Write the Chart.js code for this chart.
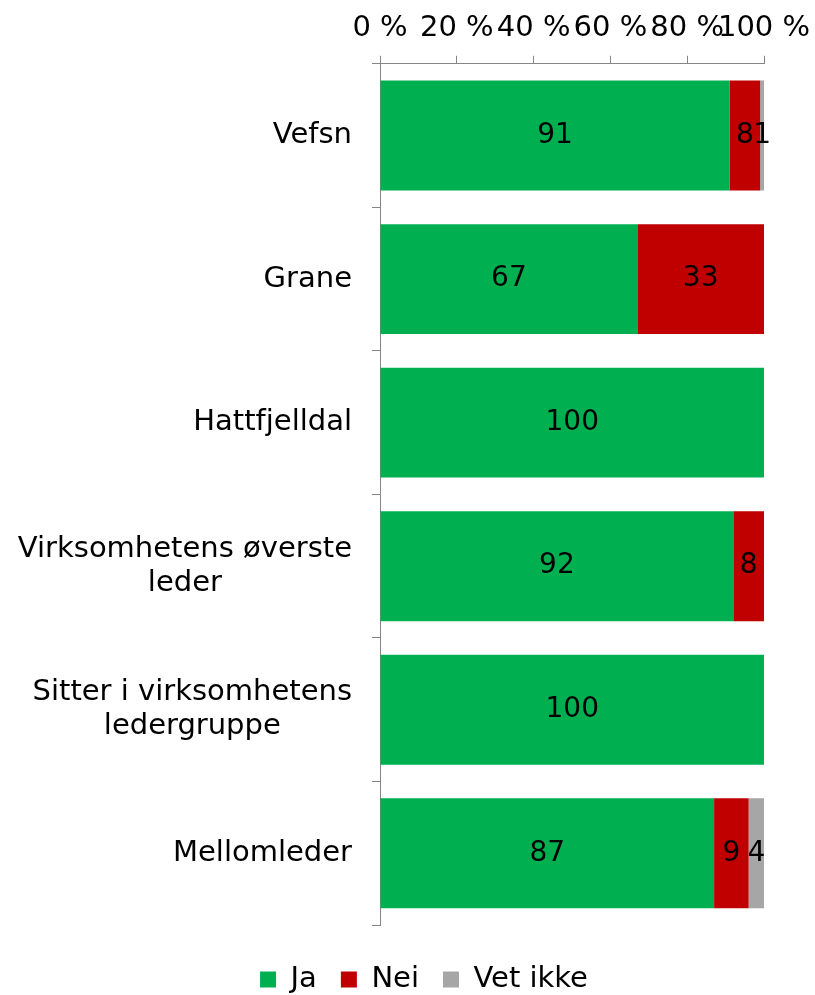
<!DOCTYPE html>
<html>
<head>
<meta charset="utf-8">
<script src="https://cdn.jsdelivr.net/npm/chart.js"></script>
<style>
  body { margin: 0; background: #fff; }
</style>
</head>
<body>
<canvas id="chart" width="815" height="995"></canvas>
<script>
// Dados
const categories = [
  "Vefsn",
  "Grane",
  "Hattfjelldal",
  ["Virksomhetens øverste", "leder"],
  ["Sitter i virksomhetens", "ledergruppe"],
  "Mellomleder"
];
const ja = [91, 67, 100, 92, 100, 87];
const nei = [8, 33, 0, 8, 0, 9];
const vetIkke = [1, 0, 0, 0, 0, 4];
const xTicks = [0, 20, 40, 60, 80, 100];

Chart.defaults.font.family = "'DejaVu Sans', Verdana, sans-serif";
Chart.defaults.font.size = 29;
Chart.defaults.color = "#000";

const axisGray = "#868686";

// Rótulos das categorias (linhas centradas, bloco alinhado à direita)
const categoryLabels = {
  id: "categoryLabels",
  afterDraw(chart) {
    const scale = chart.scales.y;
    const ctx = chart.ctx;
    ctx.save();
    ctx.font = "29px 'DejaVu Sans'";
    ctx.fillStyle = "#000";
    ctx.textAlign = "center";
    ctx.textBaseline = "middle";
    const right = scale.right - 28;
    const lineH = 34;
    categories.forEach((label, i) => {
      const lines = Array.isArray(label) ? label : [label];
      const maxW = Math.max(...lines.map((l) => ctx.measureText(l).width));
      const cx = right - maxW / 2;
      const y0 = scale.getPixelForTick(i) - ((lines.length - 1) * lineH) / 2;
      lines.forEach((l, k) => ctx.fillText(l, cx, y0 + k * lineH));
    });
    ctx.restore();
  }
};

// Valores dentro das barras
const valueLabels = {
  id: "valueLabels",
  afterDatasetsDraw(chart) {
    const ctx = chart.ctx;
    ctx.save();
    ctx.font = "28px 'DejaVu Sans'";
    ctx.fillStyle = "#000";
    ctx.textAlign = "center";
    ctx.textBaseline = "middle";
    chart.data.datasets.forEach((ds, di) => {
      chart.getDatasetMeta(di).data.forEach((bar, i) => {
        const v = ds.data[i];
        if (!v) return;
        ctx.fillText(String(v), (bar.x + bar.base) / 2, bar.y);
      });
    });
    ctx.restore();
  }
};

new Chart(document.getElementById("chart"), {
  type: "bar",
  data: {
    labels: categories,
    datasets: [
      { label: "Ja", data: ja, backgroundColor: "#00B050" },
      { label: "Nei", data: nei, backgroundColor: "#C00000" },
      { label: "Vet ikke", data: vetIkke, backgroundColor: "#A6A6A6" }
    ]
  },
  options: {
    indexAxis: "y",
    responsive: false,
    animation: false,
    datasets: {
      bar: { categoryPercentage: 1, barPercentage: 0.766 }
    },
    layout: { padding: { top: 1, right: 51, bottom: -9, left: 84 } },
    scales: {
      x: {
        position: "top",
        stacked: true,
        min: 0,
        max: 100,
        afterBuildTicks: (scale) => {
          scale.ticks = xTicks.map((v) => ({ value: v }));
        },
        afterFit: (scale) => {
          scale.paddingLeft = 0;
          scale.paddingRight = 0;
        },
        ticks: {
          padding: 10,
          maxRotation: 0,
          autoSkip: false,
          callback: (v) => v + " %"
        },
        grid: {
          drawOnChartArea: false,
          drawTicks: true,
          tickLength: 8,
          color: axisGray
        },
        border: { display: true, color: axisGray }
      },
      // espaço vazio entre o gráfico e a legenda
      spacer: {
        type: "linear",
        position: "bottom",
        display: true,
        ticks: { display: false },
        grid: { display: false, drawTicks: false },
        border: { display: false },
        afterFit: (scale) => { scale.height = 16; }
      },
      y: {
        stacked: true,
        afterFit: (scale) => { scale.width = 296; },
        ticks: { display: false },
        grid: {
          offset: true,
          drawOnChartArea: false,
          drawTicks: true,
          tickLength: 8,
          color: axisGray
        },
        border: { display: true, color: axisGray }
      }
    },
    plugins: {
      legend: {
        position: "bottom",
        labels: {
          boxWidth: 16,
          boxHeight: 16,
          padding: 24,
          font: { size: 29 },
          color: "#000"
        }
      },
      tooltip: { enabled: false }
    }
  },
  plugins: [categoryLabels, valueLabels]
});
</script>
</body>
</html>
